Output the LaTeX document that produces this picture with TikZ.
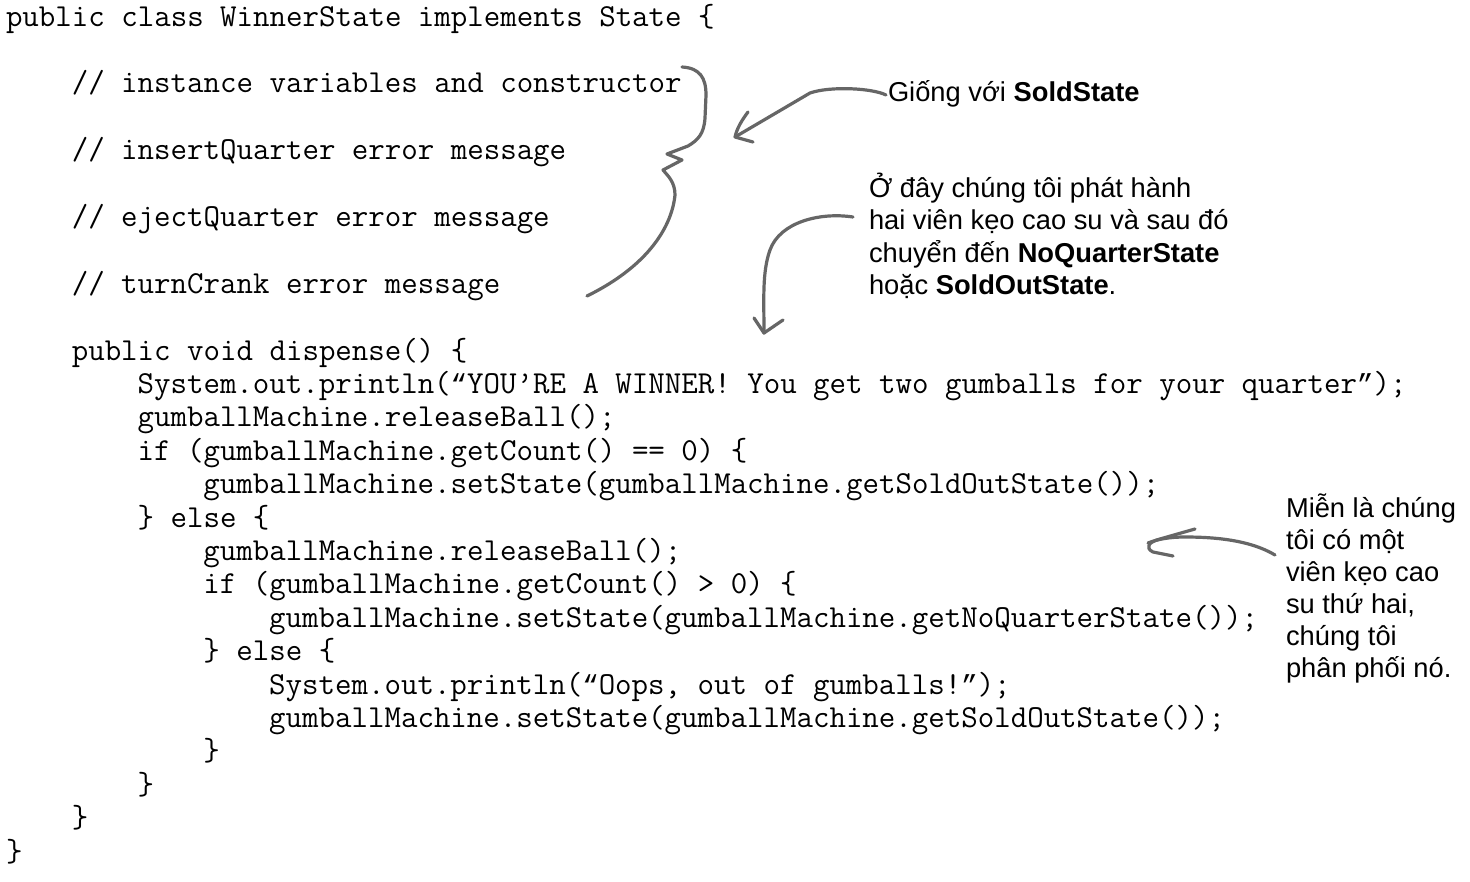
\documentclass[tikz,border=0pt]{standalone}
\usepackage{fontspec}
\setmainfont{Liberation Sans}
\newfontfamily\noteff{Liberation Sans}
\newfontfamily\quoteff{Liberation Mono}
\usetikzlibrary{calc}
\definecolor{penc}{HTML}{666666}
\frenchspacing
\newcommand\cq[1]{{\quoteff\fontsize{27.4pt}{33.4pt}\selectfont#1}}
\tikzset{
  code/.style={anchor=base west, inner sep=0pt, outer sep=0pt, text=black,
    font=\ttfamily\fontsize{32pt}{33.4pt}\selectfont},
  note/.style={anchor=base west, inner sep=0pt, outer sep=0pt, align=left, text=black,
    font=\noteff\fontsize{27.3pt}{32.3pt}\selectfont},
  note3/.style={note, font=\noteff\fontsize{27.3pt}{31.9pt}\selectfont},
  pen/.style={draw=penc, line width=3.2pt, line cap=round, line join=round},
}
\begin{document}
\begin{tikzpicture}[x=1pt,y=-1pt]
\useasboundingbox (0,0) rectangle (1470,881);
\fill[white] (0,0) rectangle (1470,881);
% code lines: x = 6 + 16.45*indent, baseline = 26 + 33.4*line
\node[code] (c0)  at (6,26)        {public class WinnerState implements State \{};
\node[code] (c2)  at (71.8,92.8)   {// instance variables and constructor};
\node[code] (c4)  at (71.8,159.6)  {// insertQuarter error message};
\node[code] (c6)  at (71.8,226.4)  {// ejectQuarter error message};
\node[code] (c8)  at (71.8,293.2)  {// turnCrank error message};
\node[code] (c10) at (71.8,360)    {public void dispense() \{};
\node[code] (c11) at (137.6,393.4) {System.out.println(\cq{“}YOU’RE A WINNER! You get two gumballs for your quarter\cq{”});};
\node[code] (c12) at (137.6,426.8) {gumballMachine.releaseBall();};
\node[code] (c13) at (137.6,460.2) {if (gumballMachine.getCount() == 0) \{};
\node[code] (c14) at (203.4,493.6) {gumballMachine.setState(gumballMachine.getSoldOutState());};
\node[code] (c15) at (137.6,527)   {\} else \{};
\node[code] (c16) at (203.4,560.4) {gumballMachine.releaseBall();};
\node[code] (c17) at (203.4,593.8) {if (gumballMachine.getCount() > 0) \{};
\node[code] (c18) at (269.2,627.2) {gumballMachine.setState(gumballMachine.getNoQuarterState());};
\node[code] (c19) at (203.4,660.6) {\} else \{};
\node[code] (c20) at (269.2,694)   {System.out.println(\cq{“}Oops, out of gumballs!\cq{”});};
\node[code] (c21) at (269.2,727.4) {gumballMachine.setState(gumballMachine.getSoldOutState());};
\node[code] (c22) at (203.4,760.8) {\}};
\node[code] (c23) at (137.6,794.2) {\}};
\node[code] (c24) at (71.8,827.6)  {\}};
\node[code] (c25) at (6,861)       {\}};
% annotations (multi-line nodes are placed by their last baseline)
\node[note] (n1) at (888,101.7) {Giống với \textbf{SoldState}};
\node[note] (n2) at (869,294.4) {Ở đây chúng tôi phát hành\\hai viên kẹo cao su và sau đó\\chuyển đến \textbf{NoQuarterState}\\hoặc \textbf{SoldOutState}.};
\node[note3] (n3) at (1286,677) {Miễn là chúng\\tôi có một\\viên kẹo cao\\su thứ hai,\\chúng tôi\\phân phối nó.};
% brace
\draw[pen] (682,67) .. controls (700,68) and (706,78) .. (706,95)
  -- (705,118) .. controls (704,134) and (698,140) .. (688,146)
  -- (667,154) -- (682,160) -- (663,170)
  .. controls (668,176) and (675,182) .. (675,195)
  .. controls (672,225) and (650,265) .. (587,296);
% arrow 1
\coordinate (a1s) at (886,95);
\coordinate (a1t) at (735,137);
\draw[pen] (a1s) .. controls (872,88) and (830,86) .. (810,93) -- (a1t);
\draw[pen] (748,112) .. controls (742,120) and (737,128) .. (a1t) -- (753,142);
% arrow 2
\coordinate (a2s) at (853,217);
\coordinate (a2t) at (764,333);
\draw[pen] (a2s) .. controls (820,212) and (780,222) .. (770,250)
  .. controls (762,272) and (764,300) .. (a2t);
\draw[pen] (754,318) -- (a2t) -- (783,320);
% arrow 3
\coordinate (a3s) at (1275,555);
\coordinate (a3t) at (1148,543);
\draw[pen] (a3s) .. controls (1250,540) and (1215,537) .. (1185,537)
  .. controls (1170,537) and (1158,539) .. (a3t);
\draw[pen] (1195,529) -- (1160,539) .. controls (1148,542) and (1145,548) .. (1153,552) -- (1173,556);
\end{tikzpicture}
\end{document}
